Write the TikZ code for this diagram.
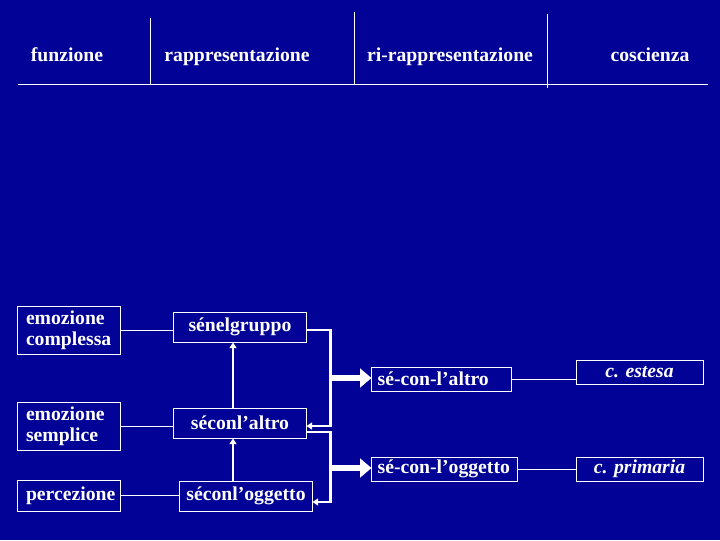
\documentclass[tikz,border=0pt]{standalone}
\usepackage{fontspec}
\setmainfont{Liberation Serif}
\usepackage{xcolor}
\usepackage{tikz}
\usetikzlibrary{arrows.meta,positioning,calc}
\definecolor{slideblue}{RGB}{2,2,150}

\begin{document}
\begin{tikzpicture}[
  x=0.025cm, y=-0.025cm,
  txt/.style={text=white, font=\bfseries\fontsize{14}{15}\selectfont},
  head/.style={txt, anchor=base},
  box/.style={txt, draw=white, line width=0.7pt, inner sep=2pt, align=left},
  fnbox/.style={box, minimum width=2.55cm, minimum height=1.2cm, inner xsep=5.7pt, text width=2.55cm-11.4pt},
  repbox/.style={box, minimum width=3.3cm, minimum height=0.75cm},
  rrbox/.style={box, minimum height=0.6cm, inner xsep=4pt},
  cbox/.style={box, minimum width=3.175cm, minimum height=0.6cm, font=\bfseries\itshape\fontsize{14}{15}\selectfont},
  rule/.style={draw=white, line width=0.6pt},
  link/.style={draw=white, line width=0.6pt},
  ptr/.style={draw=white, line width=1.5pt, -{Triangle[length=4pt,width=5pt]}},
  fat/.style={draw=white, line width=4.5pt, -{Triangle[length=8pt,width=13pt]}}
]
\fill[slideblue] (0,0) rectangle (720,540);
\useasboundingbox (0,0) rectangle (720,540);

% intestazione
\node[head] (hfun) at (67,61) {funzione};
\node[head] (hrep) at (237,61) {rappresentazione};
\node[head] (hrirep) at (450,61) {ri-rappresentazione};
\node[head] (hcos) at (650,61) {coscienza};
\draw[rule] (18,84) -- (708,84);
\draw[rule] (150,18) -- (150,84);
\draw[rule] (354,12) -- (354,84);
\draw[rule] (547,14) -- (547,88);

% funzioni
\node[fnbox] (complessa) at (69,330) {emozione\\complessa};
\node[fnbox] (semplice) at (69,426) {emozione\\semplice};
\node[fnbox, minimum height=0.775cm] (percezione) at (69,495.5) {percezione};

% rappresentazioni
\node[repbox] (gruppo) at (240,327) {sénelgruppo};
\node[repbox] (conaltro) at (240,423) {séconl’altro};
\node[repbox] (conogg) at (246,496) {séconl’oggetto};

% ri-rappresentazioni
\node[rrbox, text width=3.475cm-8pt] (altro2) at (441.5,379) {sé-con-l’altro};
\node[rrbox, text width=3.625cm-8pt] (oggetto2) at (444.5,469) {sé-con-l’oggetto};

% coscienza
\node[cbox] (estesa) at (639.5,372.5) {c. estesa};
\node[cbox] (primaria) at (639.5,469) {c. primaria};

\draw[link] (complessa.east) -- (complessa.east -| gruppo.west);
\draw[link] (semplice.east) -- (semplice.east -| conaltro.west);
\draw[link] (percezione.east) -- (percezione.east -| conogg.west);
\draw[link] (altro2.east) -- (altro2.east -| estesa.west);
\draw[link] (oggetto2.east) -- (oggetto2.east -| primaria.west);

\coordinate (upx) at (233,0);
\draw[ptr] (upx |- conaltro.north) -- (upx |- gruppo.south);
\draw[ptr] (upx |- conogg.north) -- (upx |- conaltro.south);

\draw[ptr] ($(gruppo.east)+(0,3)$) -- ++(24,0) |- ($(conaltro.east)+(0,3)$);
\draw[ptr] ($(conaltro.east)+(0,9)$) -- ++(24,0) |- ($(conogg.east)+(0,6)$);

\coordinate (bus1) at (331,378);
\coordinate (bus2) at (331,468);
\draw[fat] (bus1) -- (bus1 -| altro2.west);
\draw[fat] (bus2) -- (bus2 -| oggetto2.west);
\end{tikzpicture}
\end{document}
